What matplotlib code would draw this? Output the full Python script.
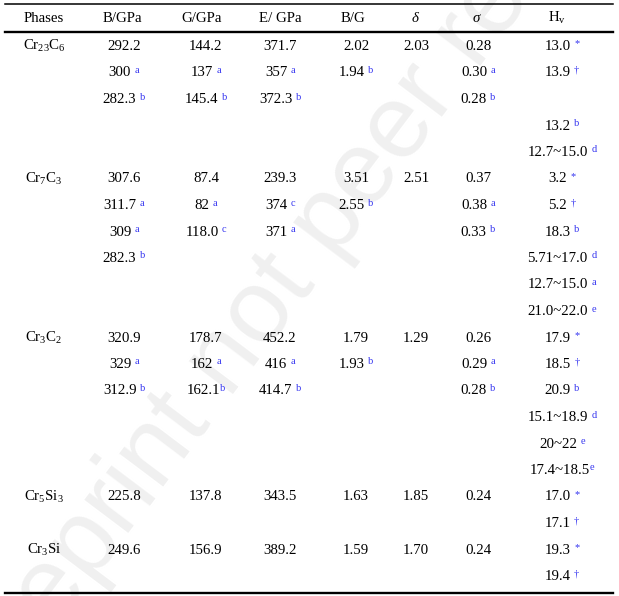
import matplotlib
matplotlib.use("Agg")
import matplotlib.pyplot as plt

plt.rcParams['font.family'] = ['Liberation Serif', 'DejaVu Serif']
plt.rcParams['mathtext.fontset'] = 'custom'
plt.rcParams['mathtext.rm'] = 'Liberation Serif'
plt.rcParams['mathtext.it'] = 'Liberation Serif:italic'

# table content ("^" separates a value from its reference mark)
headers = ["Phases", "B/GPa", "G/GPa", "E/ GPa", "B/G", "δ", "σ", "H$_\\mathrm{v}$"]
phases = ["Cr$_{23}$C$_6$", "Cr$_7$C$_3$", "Cr$_3$C$_2$", "Cr$_5$Si$_3$", "Cr$_3$Si"]
phase_rows = [5, 6, 6, 2, 2]

bulk = ["292.2", "300 ^a", "282.3 ^b", "", "",
        "307.6", "311.7 ^a", "309 ^a", "282.3 ^b", "", "",
        "320.9", "329 ^a", "312.9 ^b", "", "", "",
        "225.8", "",
        "249.6", ""]
shear = ["144.2", "137 ^a", "145.4 ^b", "", "",
         "87.4", "82 ^a", "118.0 ^c", "", "", "",
         "178.7", "162 ^a", "162.1^b", "", "", "",
         "137.8", "",
         "156.9", ""]
young = ["371.7", "357 ^a", "372.3 ^b", "", "",
         "239.3", "374 ^c", "371 ^a", "", "", "",
         "452.2", "416 ^a", "414.7 ^b", "", "", "",
         "343.5", "",
         "389.2", ""]
b_over_g = ["2.02", "1.94 ^b", "", "", "",
            "3.51", "2.55 ^b", "", "", "", "",
            "1.79", "1.93 ^b", "", "", "", "",
            "1.63", "",
            "1.59", ""]
delta = ["2.03", "", "", "", "",
         "2.51", "", "", "", "", "",
         "1.29", "", "", "", "", "",
         "1.85", "",
         "1.70", ""]
sigma = ["0.28", "0.30 ^a", "0.28 ^b", "", "",
         "0.37", "0.38 ^a", "0.33 ^b", "", "", "",
         "0.26", "0.29 ^a", "0.28 ^b", "", "", "",
         "0.24", "",
         "0.24", ""]
hv = ["13.0 ^*", "13.9 ^†", "", "13.2 ^b", "12.7~15.0 ^d",
      "3.2 ^*", "5.2 ^†", "18.3 ^b", "5.71~17.0 ^d", "12.7~15.0 ^a", "21.0~22.0 ^e",
      "17.9 ^*", "18.5 ^†", "20.9 ^b", "15.1~18.9 ^d", "20~22 ^e", "17.4~18.5^e",
      "17.0 ^*", "17.1 ^†",
      "19.3 ^*", "19.4 ^†"]

columns = [bulk, shear, young, b_over_g, delta, sigma, hv]

FS = 10.7
BLUE = '#3535f0'
head_x = [44, 122, 202, 280, 353, 415, 476, 557]
col_x = [124, 206, 280, 356, 416, 478, 562]
row0, step = 50, 26.5

fig = plt.figure(figsize=(6.19, 5.96), dpi=100)
ax = fig.add_axes([0, 0, 1, 1])
ax.set_xlim(0, 619)
ax.set_ylim(596, 0)
ax.axis('off')
renderer = fig.canvas.get_renderer()

# watermark
ax.text(339, 210, "Preprint not peer reviewed", family='Liberation Sans',
        fontsize=75, color='#f0f0f0', rotation=53, ha='center', va='center',
        rotation_mode='anchor', zorder=0, clip_on=True)


def put(x, y, s):
    val, _, ref = s.partition('^')
    gap = 3.5 if val.endswith(' ') else 0.5
    val = val.strip()
    t = ax.text(x, y, val, fontsize=FS, ha='left', va='baseline')
    if not ref:
        t.set_ha('center')
        return
    w1 = t.get_window_extent(renderer).width
    r = ax.text(x, y - 3.5, ref, fontsize=7.5, color=BLUE, ha='left', va='baseline')
    w2 = r.get_window_extent(renderer).width
    left = x - (w1 + gap + w2) / 2
    t.set_x(left)
    r.set_x(left + w1 + gap)


for x, h in zip(head_x, headers):
    style = 'italic' if h in ("δ", "σ") else 'normal'
    ax.text(x, 21.5, h, fontsize=FS, ha='center', va='baseline', style=style)

r = 0
for name, n in zip(phases, phase_rows):
    ax.text(head_x[0], row0 + r * step, name, fontsize=FS, ha='center', va='baseline')
    r += n

for x, col in zip(col_x, columns):
    for i, s in enumerate(col):
        if s:
            put(x, row0 + i * step, s)

ax.plot([5, 613], [4, 4], color='black', lw=1.1)
ax.plot([5, 613], [32, 32], color='black', lw=1.7)
ax.plot([5, 613], [593, 593], color='black', lw=1.7)

fig.savefig("out.png", dpi=100)
